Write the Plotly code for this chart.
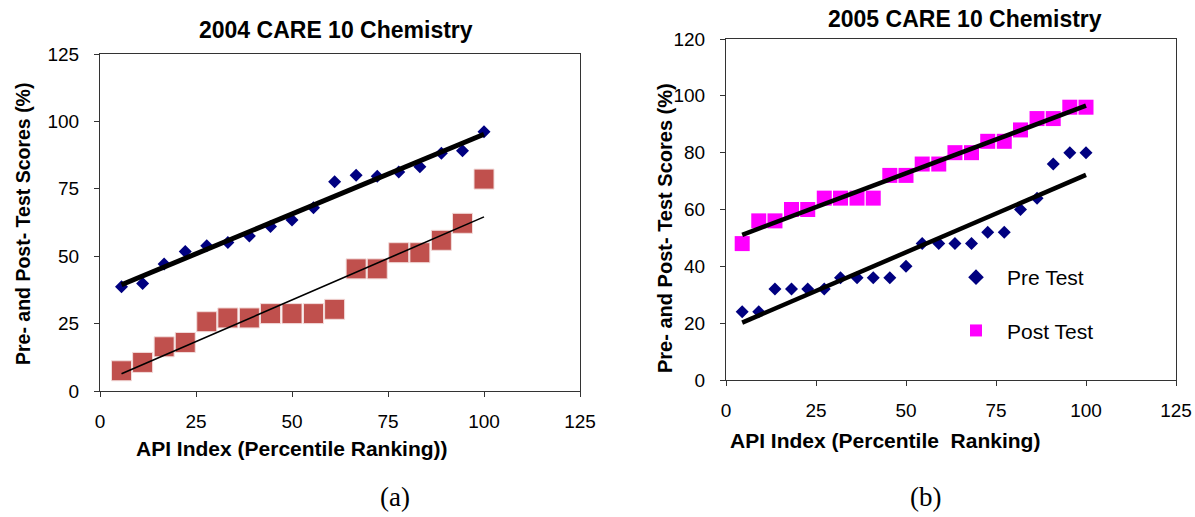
import numpy as np
import plotly.graph_objects as go

# ---- 2004 data ----
api_2004 = [5.6, 11.1, 16.7, 22.2, 27.8, 33.3, 38.9, 44.4, 50.0, 55.6, 61.1, 66.7, 72.2, 77.8, 83.3, 88.9, 94.4, 100.0]
pre_2004 = [38.7, 39.9, 47.1, 51.7, 53.9, 55.1, 57.5, 61.0, 63.4, 68.0, 77.6, 80.0, 79.7, 81.2, 83.2, 88.2, 89.1, 96.2]
post_2004 = [7.5, 10.6, 16.4, 18.0, 25.7, 27.1, 27.1, 28.7, 28.7, 28.7, 30.3, 45.3, 45.3, 51.3, 51.3, 55.9, 62.2, 78.6]

# ---- 2005 data ----
api_2005 = [4.5, 9.1, 13.6, 18.2, 22.7, 27.3, 31.8, 36.4, 40.9, 45.5, 50.0, 54.5, 59.1, 63.6, 68.2, 72.7, 77.3, 81.8, 86.4, 90.9, 95.5, 100.0]
pre_2005 = [24, 24, 32, 32, 32, 32, 36, 36, 36, 36, 40, 48, 48, 48, 48, 52, 52, 60, 64, 76, 80, 80]
post_2005 = [48, 56, 56, 60, 60, 64, 64, 64, 64, 72, 72, 76, 76, 80, 80, 84, 84, 88, 92, 92, 96, 96]

def fit(x, y):
    x = np.asarray(x, float); y = np.asarray(y, float)
    m, b = np.polyfit(x, y, 1)
    xs = np.array([x.min(), x.max()])
    return xs, m * xs + b

fig = go.Figure()

# Left chart
fig.add_trace(go.Scatter(x=api_2004, y=post_2004, mode="markers", xaxis="x", yaxis="y",
                         marker=dict(symbol="square", size=20, color="#C0504D",
                                     line=dict(color="#F2DCDB", width=1)), showlegend=False))
xs, ys = fit(api_2004, post_2004)
fig.add_trace(go.Scatter(x=xs, y=ys, mode="lines", xaxis="x", yaxis="y",
                         line=dict(color="black", width=1.6), showlegend=False))
fig.add_trace(go.Scatter(x=api_2004, y=pre_2004, mode="markers", xaxis="x", yaxis="y",
                         marker=dict(symbol="diamond", size=10, color="#000080"), showlegend=False))
xs, ys = fit(api_2004, pre_2004)
fig.add_trace(go.Scatter(x=xs, y=ys, mode="lines", xaxis="x", yaxis="y",
                         line=dict(color="black", width=5), showlegend=False))

# Right chart
fig.add_trace(go.Scatter(x=api_2005, y=pre_2005, mode="markers", xaxis="x2", yaxis="y2",
                         name="Pre Test", legendgroup="pre",
                         marker=dict(symbol="diamond", size=10, color="#000080")))
fig.add_trace(go.Scatter(x=api_2005, y=post_2005, mode="markers", xaxis="x2", yaxis="y2",
                         name="Post Test", legendgroup="post",
                         marker=dict(symbol="square", size=15, color="#FF00FF")))
xs, ys = fit(api_2005, pre_2005)
fig.add_trace(go.Scatter(x=xs, y=ys, mode="lines", xaxis="x2", yaxis="y2",
                         line=dict(color="black", width=4.5), showlegend=False))
xs, ys = fit(api_2005, post_2005)
fig.add_trace(go.Scatter(x=xs, y=ys, mode="lines", xaxis="x2", yaxis="y2",
                         line=dict(color="black", width=4.5), showlegend=False))

W, H = 1195, 517
def px(x): return x / W
def py(y): return 1 - y / H

axis_common = dict(showgrid=False, zeroline=False, showline=True, linecolor="#333333",
                   linewidth=1, mirror=True, ticks="outside", ticklen=5, tickcolor="#333333",
                   automargin=False,
                   tickfont=dict(family="Liberation Sans, Arial", size=19, color="black"))
xa = dict(ticklabelstandoff=8, **axis_common)
ya = dict(ticklabelstandoff=11, **axis_common)

fig.update_layout(
    width=W, height=H, margin=dict(l=0, r=0, t=0, b=0, pad=0, autoexpand=False),
    paper_bgcolor="white", plot_bgcolor="white",
    xaxis=dict(domain=[px(100), px(580)], range=[0, 125], dtick=25, tick0=0,
               anchor="y", **xa),
    yaxis=dict(domain=[py(391), py(54)], range=[0, 125], dtick=25, tick0=0,
               anchor="x", **ya),
    xaxis2=dict(domain=[px(726), px(1176)], range=[0, 125], dtick=25, tick0=0,
                anchor="y2", **xa),
    yaxis2=dict(domain=[py(380), py(39)], range=[0, 120], dtick=20, tick0=0,
                anchor="x2", **ya),
    legend=dict(x=px(945), y=py(257), xanchor="left", yanchor="top",
                bgcolor="rgba(0,0,0,0)", borderwidth=0, tracegroupgap=23,
                traceorder="grouped", itemwidth=52,
                font=dict(family="Liberation Sans, Arial", size=21, color="black"),
                itemsizing="constant"),
    showlegend=True,
)

bold = dict(family="Liberation Sans, Arial", color="black")
serif = dict(family="Liberation Serif, Times New Roman", color="black")
ann = [
    dict(text="<b>2004 CARE 10 Chemistry</b>", x=px(336), y=py(30), font=dict(size=23, **bold)),
    dict(text="<b>2005 CARE 10 Chemistry</b>", x=px(965), y=py(19), font=dict(size=23, **bold)),
    dict(text="<b>API Index (Percentile Ranking))</b>", x=px(292), y=py(448), font=dict(size=21, **bold)),
    dict(text="<b>API Index (Percentile\u00a0 Ranking)</b>", x=px(885), y=py(440), font=dict(size=21, **bold)),
    dict(text="<b>Pre- and Post- Test Scores (%)</b>", x=px(23), y=py(224), textangle=-90,
         font=dict(size=19.5, **bold)),
    dict(text="<b>Pre- and Post- Test Scores (%)</b>", x=px(665), y=py(228), textangle=-90,
         font=dict(size=20, **bold)),
    dict(text="(a)", x=px(395), y=py(497), font=dict(size=27, **serif)),
    dict(text="(b)", x=px(925), y=py(497), font=dict(size=27, **serif)),
]
for a in ann:
    a.update(xref="paper", yref="paper", showarrow=False, xanchor="center", yanchor="middle")
fig.update_layout(annotations=ann)

fig.write_html("out.html")
